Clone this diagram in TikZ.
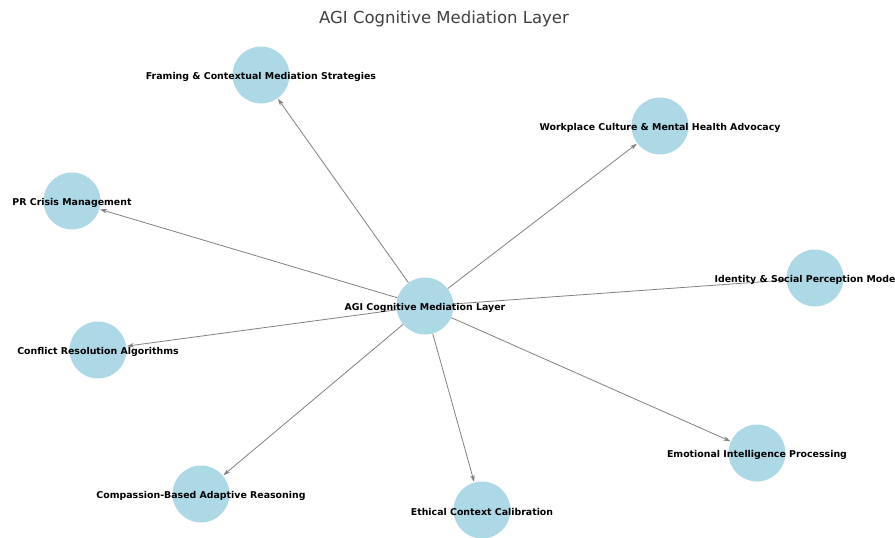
\documentclass[tikz,border=0pt]{standalone}
\usepackage{fontspec}
\setmainfont{DejaVu Sans}
\usetikzlibrary{arrows.meta}
\definecolor{nodeblue}{HTML}{ADD8E6}
\definecolor{titlegray}{HTML}{404040}
\tikzset{
  dot/.style={circle, fill=nodeblue, minimum size=57pt, inner sep=0pt},
  lbl/.style={font=\fontsize{9.4}{11}\selectfont\bfseries, inner sep=0pt, text=black, yshift=-1.5pt},
  edge/.style={draw=gray, line width=0.8pt, -{Stealth[length=7pt,width=4.5pt]}, shorten >=0.5pt}
}
\begin{document}
\begin{tikzpicture}[x=1pt,y=-1pt]
\useasboundingbox (0,0) rectangle (895,538);
\clip (0,0) rectangle (895,538);
\node[font=\fontsize{16.5}{18}\selectfont, text=titlegray] (title) at (444,18.5) {AGI Cognitive Mediation Layer};
\node[dot] (c) at (425,306) {};
\node[dot] (fr) at (261,75) {};
\node[dot] (wp) at (660,126) {};
\node[dot] (pr) at (72,201) {};
\node[dot] (id) at (815,278) {};
\node[dot] (cr) at (98,350) {};
\node[dot] (ei) at (757,453) {};
\node[dot] (cb) at (201,494) {};
\node[dot] (ec) at (482,510) {};
\foreach \t in {fr,wp,pr,id,cr,ei,cb,ec} \draw[edge] (c) -- (\t);
\node[lbl] (lc) at (c) {AGI Cognitive Mediation Layer};
\node[lbl] (lfr) at (fr) {Framing \& Contextual Mediation Strategies};
\node[lbl] (lwp) at (wp) {Workplace Culture \& Mental Health Advocacy};
\node[lbl] (lpr) at (pr) {PR Crisis Management};
\node[lbl] (lid) at (id) {Identity \& Social Perception Modeling};
\node[lbl] (lcr) at (cr) {Conflict Resolution Algorithms};
\node[lbl] (lei) at (ei) {Emotional Intelligence Processing};
\node[lbl] (lcb) at (cb) {Compassion-Based Adaptive Reasoning};
\node[lbl] (lec) at (ec) {Ethical Context Calibration};
\end{tikzpicture}
\end{document}
